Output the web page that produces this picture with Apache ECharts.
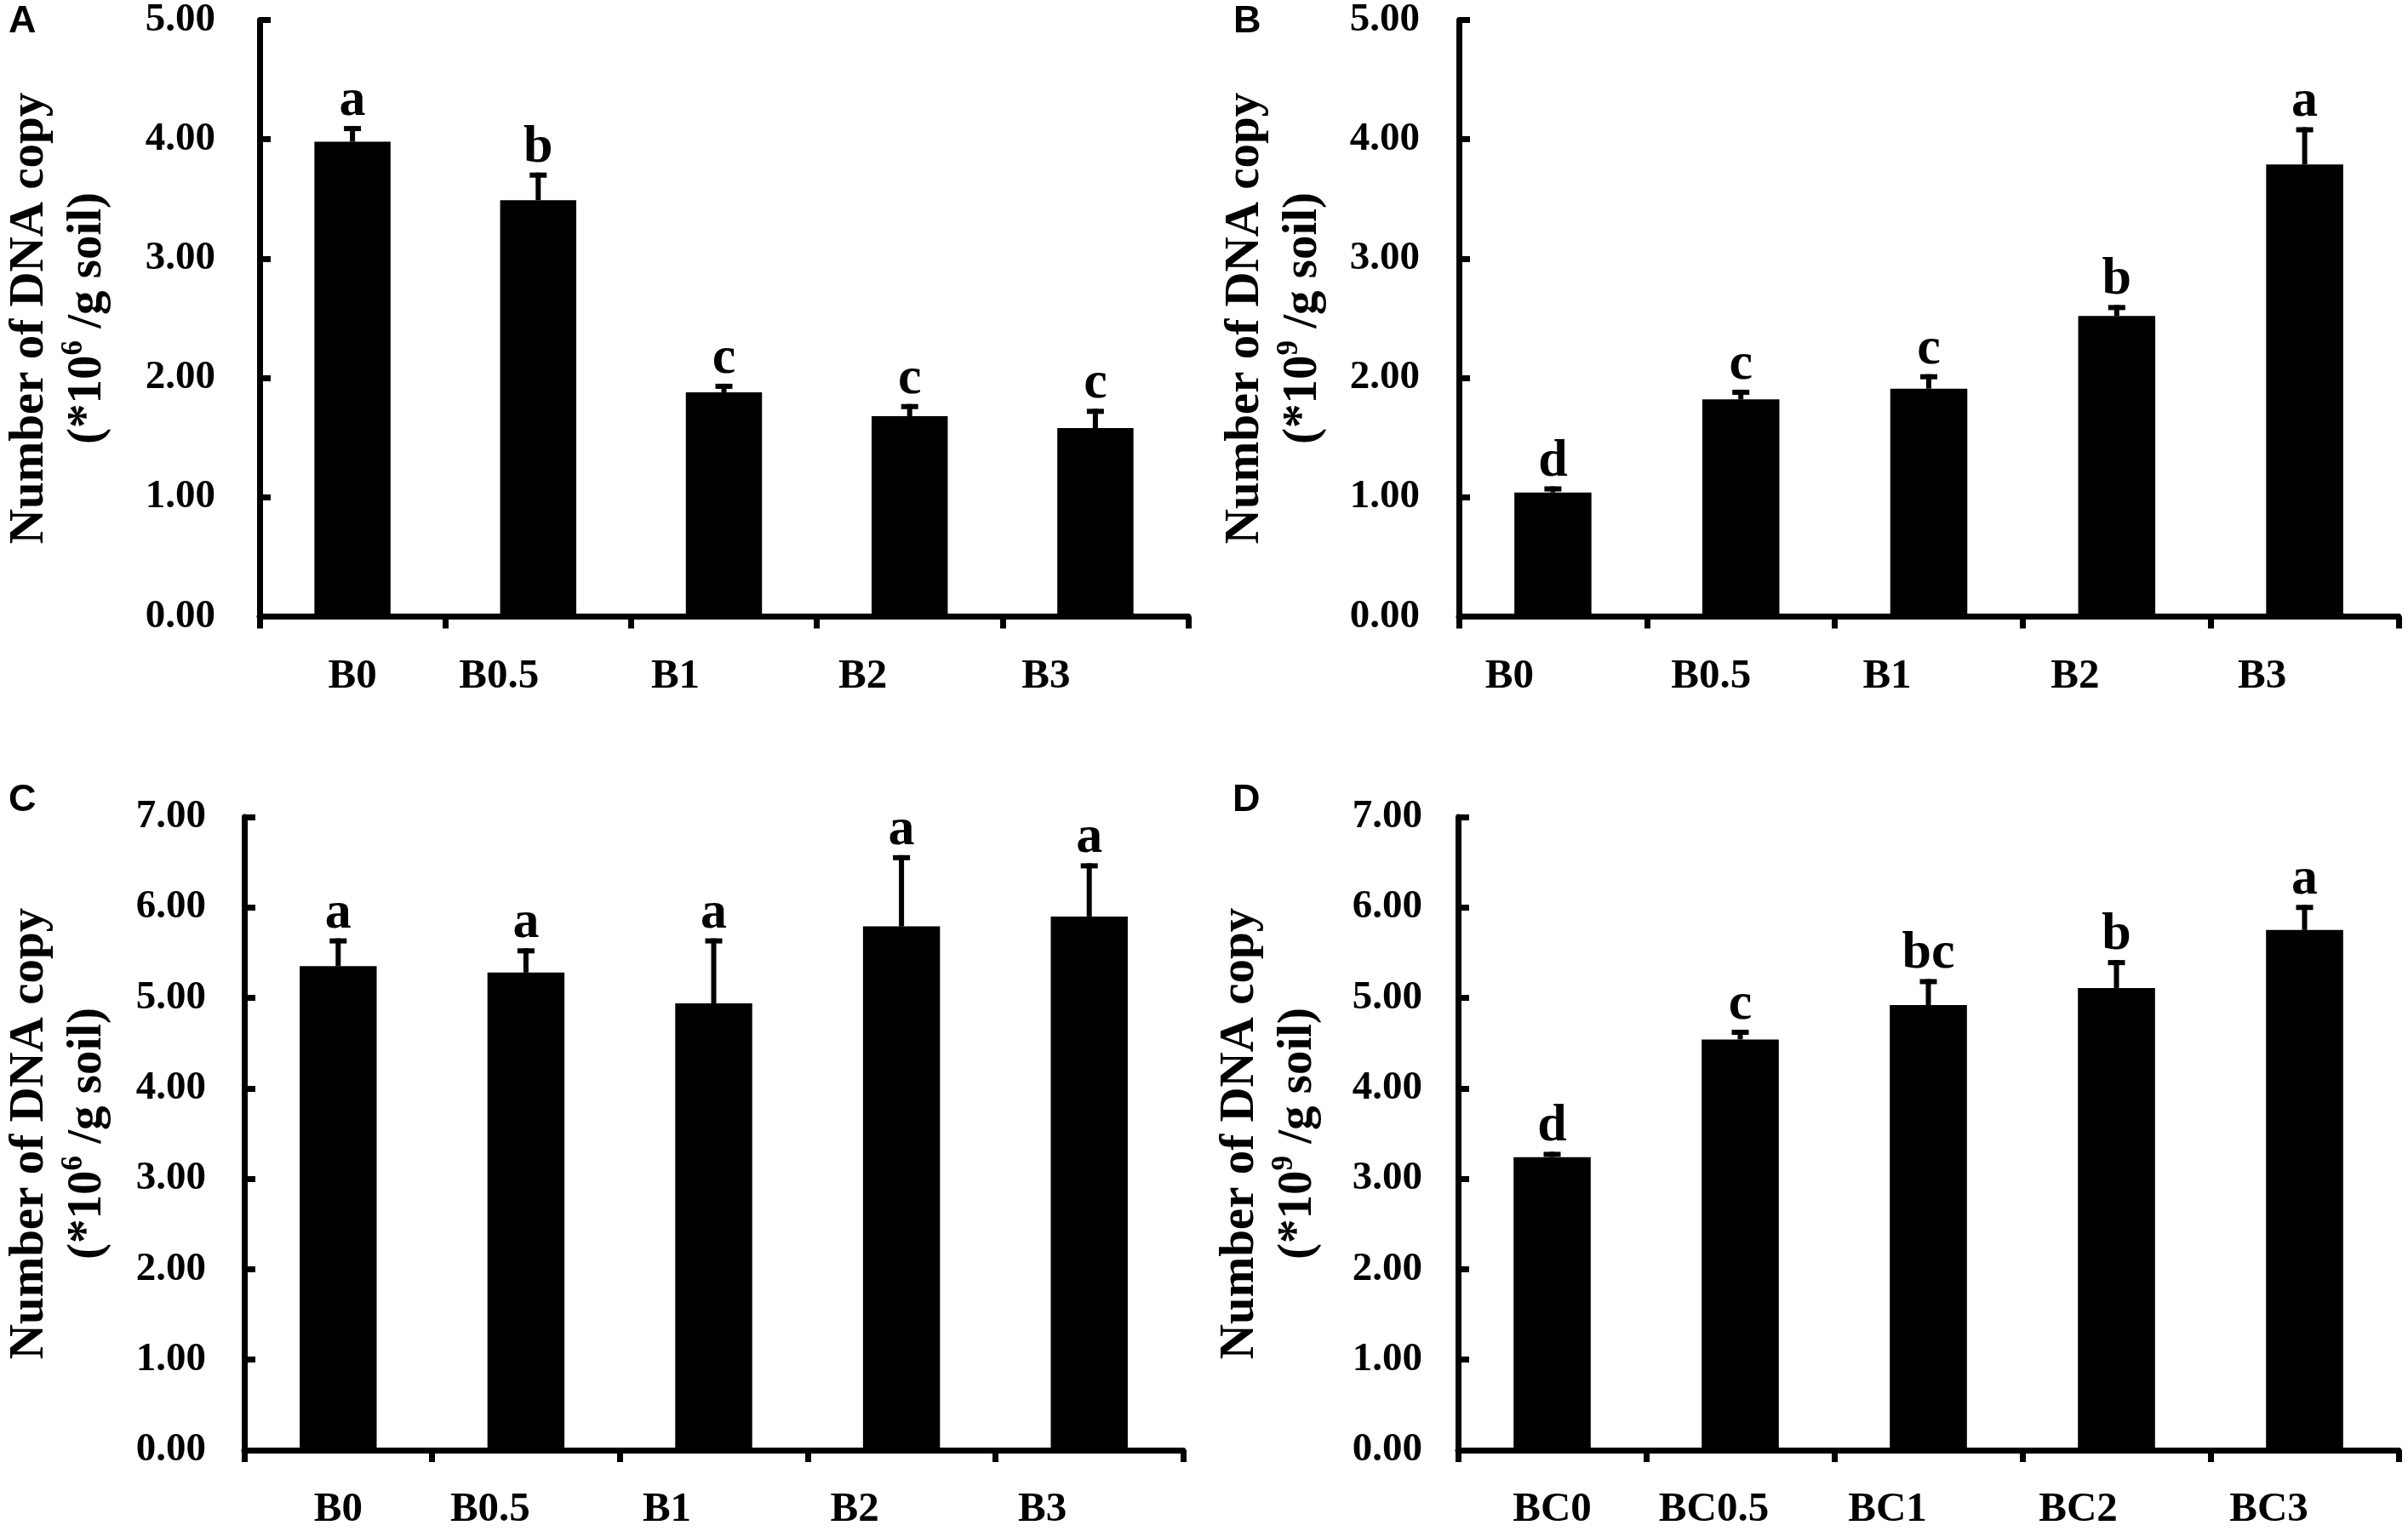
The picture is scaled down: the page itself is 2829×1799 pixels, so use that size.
<!DOCTYPE html>
<html><head><meta charset="utf-8">
<script src="https://cdn.jsdelivr.net/npm/echarts@6/dist/echarts.min.js"></script>
<style>html,body{margin:0;padding:0;background:#fff}#c{width:2829px;height:1799px}</style>
</head><body><div id="c"></div>
<script>
// ---- data ----
const catsB = ['B0', 'B0.5', 'B1', 'B2', 'B3'];
const catsBC = ['BC0', 'BC0.5', 'BC1', 'BC2', 'BC3'];

const meanA = [3.98, 3.49, 1.88, 1.68, 1.58];
const errA  = [0.11, 0.21, 0.05, 0.08, 0.14];
const sigA  = ['a', 'b', 'c', 'c', 'c'];

const meanB = [1.04, 1.82, 1.91, 2.52, 3.79];
const errB  = [0.03, 0.06, 0.10, 0.07, 0.29];
const sigB  = ['d', 'c', 'c', 'b', 'a'];

const meanC = [5.35, 5.28, 4.94, 5.79, 5.90];
const errC  = [0.28, 0.24, 0.69, 0.76, 0.56];
const sigC  = ['a', 'a', 'a', 'a', 'a'];

const meanD = [3.24, 4.54, 4.92, 5.11, 5.75];
const errD  = [0.03, 0.08, 0.26, 0.28, 0.25];
const sigD  = ['d', 'c', 'bc', 'b', 'a'];

const yMaxTop = 5, yMaxBottom = 7, yInterval = 1;
const panelLetters = ['A', 'B', 'C', 'D'];
const exponents = ['6', '9', '6', '9'];

// ---- layout / style ----
const SERIF = '"Liberation Serif", "Times New Roman", serif';
const SANS = '"Liberation Sans", Arial, sans-serif';
const layout = [
  { grid: {left: 300, top: 23, width: 1096, height: 701.5}, labelMargin: 52, nameGap: 168, shift: [0, -46, -57, -55, -58], letter: [10, 3] },
  { grid: {left: 1714, top: 23, width: 1104, height: 701.5}, labelMargin: 46, nameGap: 149, shift: [-51, -35, -49, -49, -50], letter: [1449, 3] },
  { grid: {left: 283, top: 960, width: 1107, height: 745}, labelMargin: 45, nameGap: 150, shift: [0, -42, -55, -55, -55], letter: [10, 918] },
  { grid: {left: 1713, top: 960, width: 1105, height: 745}, labelMargin: 42, nameGap: 154, shift: [0, -31, -48, -45, -42], letter: [1448, 918] }
];
const panelData = [
  {cats: catsB, mean: meanA, err: errA, sig: sigA, max: yMaxTop},
  {cats: catsB, mean: meanB, err: errB, sig: sigB, max: yMaxTop},
  {cats: catsB, mean: meanC, err: errC, sig: sigC, max: yMaxBottom},
  {cats: catsBC, mean: meanD, err: errD, sig: sigD, max: yMaxBottom}
];

const grids = [], xAxes = [], yAxes = [], series = [], graphics = [];
panelData.forEach((p, k) => {
  const L = layout[k];
  grids.push(L.grid);
  const rich = {};
  L.shift.forEach((s, i) => {
    rich['s' + i] = {fontFamily: SERIF, fontWeight: 'bold', fontSize: 49, color: '#000',
      padding: s < 0 ? [0, -2 * s, 0, 0] : [0, 0, 0, 2 * s]};
  });
  xAxes.push({
    type: 'category', gridIndex: k, data: p.cats, boundaryGap: true,
    axisLine: {show: true, lineStyle: {color: '#000', width: 7}},
    axisTick: {show: true, inside: false, interval: 0, length: 14, lineStyle: {color: '#000', width: 7}},
    axisLabel: {margin: 46, interval: 0, hideOverlap: false, formatter: (v, i) => '{s' + i + '|' + v + '}', rich: rich,
      fontFamily: SERIF, fontWeight: 'bold', fontSize: 49, color: '#000'},
    splitLine: {show: false}
  });
  yAxes.push({
    type: 'value', gridIndex: k, min: 0, max: p.max, interval: yInterval,
    axisLine: {show: true, lineStyle: {color: '#000', width: 7}},
    axisTick: {show: true, inside: true, length: 13, lineStyle: {color: '#000', width: 7}},
    axisLabel: {margin: L.labelMargin, formatter: v => v.toFixed(2),
      fontFamily: SERIF, fontWeight: 'bold', fontSize: 47, color: '#000'},
    splitLine: {show: false},
    name: '{t|Number of DNA copy}\n{t|(*10}{sup|' + exponents[k] + '}{t| /g soil)}',
    nameLocation: 'middle', nameRotate: 90, nameGap: L.nameGap,
    nameTextStyle: {
      fontFamily: SERIF, fontWeight: 'bold', fontSize: 57, lineHeight: 68, color: '#000',
      rich: {
        t: {fontFamily: SERIF, fontWeight: 'bold', fontSize: 57, lineHeight: 68, color: '#000'},
        sup: {fontFamily: SERIF, fontWeight: 'bold', fontSize: 35, lineHeight: 40, verticalAlign: 'top', color: '#000'}
      }
    }
  });
  series.push({
    type: 'bar', xAxisIndex: k, yAxisIndex: k, data: p.mean, barWidth: '41%',
    itemStyle: {color: '#000'}, silent: true, animation: false
  });
  const sig = p.sig;
  series.push({
    type: 'custom', xAxisIndex: k, yAxisIndex: k, animation: false, silent: true, clip: false,
    data: p.mean.map((m, i) => [i, m, p.err[i]]),
    encode: {x: 0, y: 1},
    renderItem: (params, api) => {
      const i = api.value(0), m = api.value(1), e = api.value(2);
      const base = api.coord([i, m]);
      const top = api.coord([i, m + e]);
      return {type: 'group', children: [
        {type: 'line', shape: {x1: base[0], y1: base[1], x2: top[0], y2: top[1] - 3}, style: {stroke: '#000', lineWidth: 6}},
        {type: 'line', shape: {x1: top[0] - 10, y1: top[1], x2: top[0] + 10, y2: top[1]}, style: {stroke: '#000', lineWidth: 6}},
        {type: 'text', x: top[0], y: top[1] - 1, style: {text: sig[i], fontFamily: SERIF, fontWeight: 'bold', fontSize: 62,
          fill: '#000', align: 'center', verticalAlign: 'bottom'}}
      ]};
    }
  });
  graphics.push({type: 'text', left: L.letter[0], top: L.letter[1],
    style: {text: panelLetters[k], fontFamily: SANS, fontWeight: 'bold', fontSize: 45, fill: '#000'}});
});

const chart = echarts.init(document.getElementById('c'), null, {renderer: 'canvas'});
chart.setOption({
  backgroundColor: '#fff', animation: false,
  grid: grids, xAxis: xAxes, yAxis: yAxes, series: series, graphic: graphics
});
</script></body></html>
